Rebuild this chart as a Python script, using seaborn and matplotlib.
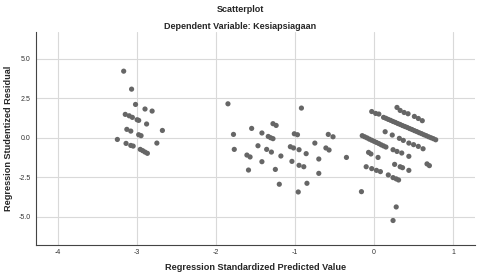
import seaborn as sns
import matplotlib.pyplot as plt
import pandas as pd

# Regression standardized predicted values (x) and studentized residuals (y)
pred_left = [-3.17, -3.07, -3.02, -2.90, -2.81, -3.15, -3.10, -3.06, -3.00, -2.98,
             -2.88, -3.13, -3.08, -2.68, -2.98, -2.95, -3.25, -3.14, -3.08, -3.05,
             -2.75, -2.96, -2.93, -2.90, -2.87]
resid_left = [4.22, 3.08, 2.11, 1.82, 1.69, 1.48, 1.39, 1.29, 1.14, 1.10,
              0.87, 0.53, 0.42, 0.46, 0.19, 0.13, -0.11, -0.36, -0.49, -0.53,
              -0.34, -0.74, -0.82, -0.91, -0.99]

pred_mid = [-1.85, -0.92, -1.78, -1.55, -1.42, -1.28, -1.24, -1.34, -1.31, -1.28,
            -1.01, -0.97, -0.58, -0.52, -1.77, -1.47, -1.36, -1.30, -1.06, -1.02,
            -0.95, -0.86, -0.75, -0.61, -0.57, -0.35, -1.61, -1.57, -1.18, -1.42,
            -1.04, -0.95, -0.89, -0.70, -1.59, -1.25, -0.70, -1.20, -0.85, -0.96,
            -0.16]
resid_mid = [2.15, 1.88, 0.21, 0.59, 0.30, 0.89, 0.78, 0.08, 0.00, -0.06,
             0.25, 0.19, 0.21, 0.06, -0.74, -0.51, -0.74, -0.91, -0.57, -0.65,
             -0.76, -1.01, -0.34, -0.65, -0.78, -1.25, -1.10, -1.22, -1.16, -1.52,
             -1.50, -1.75, -1.84, -1.35, -2.05, -2.01, -2.26, -2.95, -2.89, -3.44,
             -3.42]

pred_right = [0.28, 0.24,
              -0.03, 0.02, 0.06,
              0.12, 0.15, 0.18, 0.21, 0.24, 0.27, 0.30, 0.33, 0.36, 0.39, 0.42, 0.45,
              0.48, 0.51, 0.54, 0.57, 0.60, 0.63, 0.66, 0.69, 0.72, 0.75, 0.78,
              0.29, 0.33, 0.38, 0.43, 0.51, 0.56, 0.61,
              -0.15, -0.12, -0.09, -0.06, -0.03, 0.00, 0.03, 0.06, 0.09, 0.12, 0.15,
              0.14, 0.23, 0.32, 0.37, 0.44, 0.50, 0.56, 0.62,
              0.24, 0.29, 0.35, 0.44, -0.07, -0.04, 0.05, 0.67, 0.70,
              0.26, 0.33, 0.36, 0.44, -0.10, -0.03, 0.03, 0.08,
              0.18, 0.24, 0.28, 0.31]
resid_right = [-4.39, -5.25,
               1.66, 1.54, 1.50,
               1.29, 1.23, 1.16, 1.10, 1.03, 0.97, 0.90, 0.84, 0.77, 0.71, 0.65, 0.58,
               0.52, 0.45, 0.39, 0.32, 0.26, 0.19, 0.13, 0.06, 0.00, -0.06, -0.13,
               1.92, 1.73, 1.60, 1.52, 1.35, 1.22, 1.08,
               0.13, 0.06, -0.01, -0.09, -0.16, -0.23, -0.30, -0.37, -0.45, -0.52, -0.59,
               0.38, 0.17, -0.04, -0.17, -0.34, -0.44, -0.55, -0.70,
               -0.76, -0.87, -0.97, -1.18, -0.93, -1.03, -1.25, -1.66, -1.77,
               -1.69, -1.84, -1.90, -2.07, -1.84, -1.96, -2.07, -2.15,
               -2.36, -2.53, -2.61, -2.68]

x_ticks = [-4, -3, -2, -1, 0, 1]
y_ticks = [-5.0, -2.5, 0.0, 2.5, 5.0]

df = pd.DataFrame({
    "pred": pred_left + pred_mid + pred_right,
    "resid": resid_left + resid_mid + resid_right,
})

sns.set_style("whitegrid", {"grid.color": "#d9d9d9", "axes.edgecolor": "#444444"})
plt.rcParams["font.family"] = ["Liberation Sans", "DejaVu Sans"]
plt.rcParams["axes.unicode_minus"] = False

fig = plt.figure(figsize=(4.8, 2.74), dpi=100)
ax = fig.add_axes([0.075, 0.106, 0.915, 0.777])

sns.scatterplot(data=df, x="pred", y="resid", color="#666666", s=14,
                edgecolor="none", ax=ax)

ax.set_xlim(-4.28, 1.28)
ax.set_ylim(-6.8, 6.7)
ax.set_xticks(x_ticks)
ax.set_xticklabels([str(t) for t in x_ticks])
ax.set_yticks(y_ticks)
ax.set_yticklabels([f"{t:.1f}" for t in y_ticks])
ax.tick_params(labelsize=5, length=0, colors="#333333")
ax.tick_params(axis="x", pad=3)
ax.tick_params(axis="y", pad=4)
ax.grid(True, linewidth=0.8)

for side in ["top", "right"]:
    ax.spines[side].set_visible(False)
for side in ["left", "bottom"]:
    ax.spines[side].set_linewidth(0.8)

ax.set_xlabel("Regression Standardized Predicted Value", fontsize=6.6,
              fontweight="bold", labelpad=5)
ax.set_ylabel("Regression Studentized Residual", fontsize=6.6,
              fontweight="bold", labelpad=4)

fig.text(0.5, 0.965, "Scatterplot", ha="center", va="center",
         fontsize=6.5, fontweight="bold")
fig.text(0.5, 0.905, "Dependent Variable: Kesiapsiagaan", ha="center",
         va="center", fontsize=6.5, fontweight="bold")

fig.savefig("out.png", dpi=100)
